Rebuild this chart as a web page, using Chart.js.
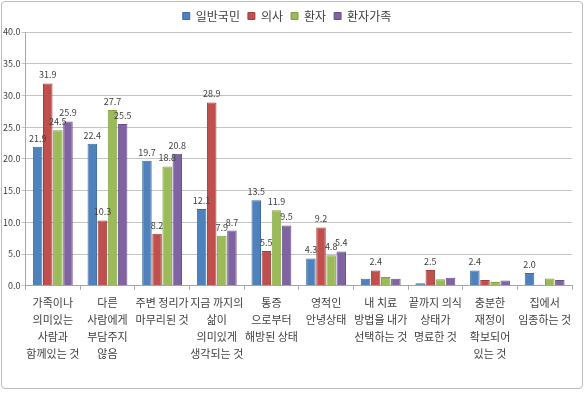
<!DOCTYPE html>
<html>
<head>
<meta charset="utf-8">
<script src="https://cdn.jsdelivr.net/npm/chart.js@4.4.0/dist/chart.umd.min.js"></script>
<style>
  html, body { margin: 0; padding: 0; background: #fff; }
  #wrap {
    position: absolute; left: 1px; top: 1px;
    width: 582px; height: 388px;
    border: 1px solid #bcbcbc; border-radius: 4px;
    box-sizing: border-box;
  }
  #chart { display: block; }
</style>
</head>
<body>
<div id="wrap"><canvas id="chart" width="580" height="386"></canvas></div>
<script>
const categories = [
  ['가족이나', '의미있는', '사람과', '함께있는 것'],
  ['다른', '사람에게', '부담주지', '않음'],
  ['주변 정리가', '마무리된 것'],
  ['지금 까지의', '삶이', '의미있게', '생각되는 것'],
  ['통증', '으로부터', '해방된 상태'],
  ['영적인', '안녕상태'],
  ['내 치료', '방법을 내가', '선택하는 것'],
  ['끝까지 의식', '상태가', '명료한 것'],
  ['충분한', '재정이', '확보되어', '있는 것'],
  ['집에서', '임종하는 것']
];
const seriesNames = ['일반국민', '의사', '환자', '환자가족'];
const publicVals  = [21.9, 22.4, 19.7, 12.1, 13.5, 4.3, 1.1, 0.4, 2.4, 2.0];
const doctorVals  = [31.9, 10.3, 8.2, 28.9, 5.5, 9.2, 2.4, 2.5, 0.9, 0.15];
const patientVals = [24.5, 27.7, 18.8, 7.9, 11.9, 4.8, 1.4, 1.05, 0.6, 1.15];
const familyVals  = [25.9, 25.5, 20.8, 8.7, 9.5, 5.4, 1.1, 1.25, 0.85, 0.9];
const labelMin = 2.0; // smaller values carry no label in the original

const colors = ['#4f81bd', '#c0504d', '#9bbb59', '#8064a2'];
const edges  = ['#3f6a9e', '#a23f3c', '#80a043', '#67508a'];
const KFONT = '"Noto Sans CJK KR", "Noto Sans", sans-serif';

const valueLabels = {
  id: 'valueLabels',
  afterDatasetsDraw(chart) {
    const ctx = chart.ctx;
    ctx.save();
    ctx.font = '9px ' + KFONT;
    ctx.fillStyle = '#404040';
    ctx.textAlign = 'center';
    ctx.textBaseline = 'bottom';
    chart.data.datasets.forEach((ds, i) => {
      chart.getDatasetMeta(i).data.forEach((bar, j) => {
        const v = ds.data[j];
        if (v < labelMin) return;
        ctx.fillText(v.toFixed(1), bar.x, bar.y - 4);
      });
    });
    ctx.restore();
  }
};

const datasets = [publicVals, doctorVals, patientVals, familyVals].map((vals, i) => ({
  label: seriesNames[i],
  data: vals,
  backgroundColor: colors[i],
  borderColor: edges[i],
  borderWidth: 1,
  categoryPercentage: 0.74,
  barPercentage: 0.94
}));

new Chart(document.getElementById('chart'), {
  type: 'bar',
  data: { labels: categories, datasets: datasets },
  options: {
    responsive: false,
    animation: false,
    layout: { padding: { left: 0, right: 10, top: 0, bottom: 22 } },
    plugins: {
      legend: {
        position: 'top',
        labels: {
          font: { family: KFONT, size: 12 },
          color: '#404040',
          boxWidth: 7,
          boxHeight: 7,
          padding: 8
        }
      },
      tooltip: { enabled: false }
    },
    scales: {
      y: {
        min: 0,
        max: 40,
        ticks: {
          stepSize: 5,
          padding: 1,
          font: { family: KFONT, size: 9 },
          color: '#404040',
          callback: v => v.toFixed(1)
        },
        grid: { color: '#c4c4c4', tickLength: 4 },
        border: { color: '#a6a6a6' }
      },
      x: {
        ticks: {
          font: { family: KFONT, size: 11, lineHeight: 1.55 },
          color: '#404040',
          maxRotation: 0,
          autoSkip: false,
          padding: 4
        },
        grid: { drawOnChartArea: false, tickLength: 4, color: '#a6a6a6' },
        border: { color: '#a6a6a6' }
      }
    }
  },
  plugins: [valueLabels]
});
</script>
</body>
</html>
